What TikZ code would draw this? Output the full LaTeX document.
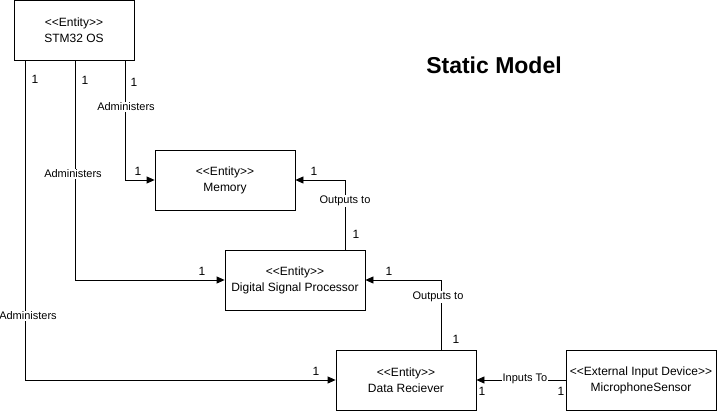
\documentclass[tikz,border=0pt]{standalone}
\usepackage{fontspec}
\setmainfont{Liberation Sans}[Ligatures=TeXOff]
\usetikzlibrary{arrows.meta}
\begin{document}
\begin{tikzpicture}[x=1pt,y=-1pt]
 \tikzstyle{entity}=[rectangle, draw, line width=0.8pt, minimum width=140pt, minimum height=60pt, align=center, inner sep=0pt, font=\fontsize{12}{16}\selectfont]
 \tikzstyle{lbl}=[fill=white, inner sep=1pt, font=\fontsize{11}{13}\selectfont]
 \tikzstyle{mult}=[inner sep=0pt, font=\fontsize{12}{14}\selectfont]
 \tikzstyle{arr}=[line width=0.8pt, -{Triangle[length=8pt,width=7pt]}]
\useasboundingbox (0,0) rectangle (718,412);
\draw (494,65) node[font=\bfseries\fontsize{23}{26}\selectfont] (title) {Static Model};
\draw (74,30) node[entity, minimum width=120pt] (os) {<<Entity>>\\STM32 OS};
\draw (225,180) node[entity] (mem) {<<Entity>>\\Memory};
\draw (295,280) node[entity] (dsp) {<<Entity>>\\Digital Signal Processor};
\draw (406,380) node[entity] (dr) {<<Entity>>\\Data Reciever};
\draw (641,380) node[entity, minimum width=150pt] (mic) {<<External Input Device>>\\MicrophoneSensor};
% administers
\draw[arr] (os.south) ++(51,0) |- (mem.west);
\draw[arr] (os.south) ++(1,0) |- (dsp.west);
\draw[arr] (os.south) ++(-49,0) |- (dr.west);
\draw (126,107) node[lbl] (adm1) {Administers};
\draw (73,174) node[lbl] (adm2) {Administers};
\draw (28,316) node[lbl] (adm3) {Administers};
\draw (134,82) node[mult] (m1) {1};
\draw (85,80) node[mult] (m2) {1};
\draw (35,79) node[mult] (m3) {1};
\draw (138,171) node[mult] (m4) {1};
\draw (202,271) node[mult] (m5) {1};
\draw (316,371) node[mult] (m6) {1};
% outputs to
\draw[arr] (dsp.north) ++(50,0) |- (mem.east);
\draw[arr] (dr.north) ++(35,0) |- (dsp.east);
\draw (345,201) node[lbl] (out1) {Outputs to};
\draw (438,297) node[lbl] (out2) {Outputs to};
\draw (356,234) node[mult] (m7) {1};
\draw (314,171) node[mult] (m8) {1};
\draw (456,339) node[mult] (m9) {1};
\draw (389,271) node[mult] (m10) {1};
% inputs to
\draw[arr] (mic.west) -- (dr.east);
\draw (525,379) node[lbl] (inp) {Inputs To};
\draw (482,391) node[mult] (m11) {1};
\draw (561,391) node[mult] (m12) {1};
\end{tikzpicture}
\end{document}
